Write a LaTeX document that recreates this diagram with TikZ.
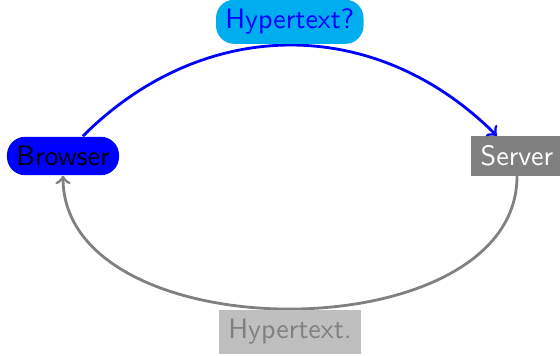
\documentclass[tikz,border=0pt]{standalone}
\definecolor{hypcyan}{RGB}{0,174,239}
\definecolor{hypgray}{RGB}{191,191,191}
\begin{document}
\begin{tikzpicture}[x=0.357pt,y=-0.357pt,font=\sffamily,
  box/.style={inner sep=3.333pt},
  pill/.style={box,rounded corners=6.5pt},
  arr/.style={->,line width=1pt}]
\useasboundingbox (0,0) rectangle (560,355);
\node[pill,fill=blue,text=black] (browser) at (63,156) {Browser};
\node[box,fill=gray,text=white] (server) at (517,156) {Server};
\draw[arr,blue] (browser) to[out=45,in=135,looseness=1.06]
  node[above,pill,fill=hypcyan,text=blue] (q) {Hypertext?} (server);
\draw[arr,gray] (server) to[out=-90,in=-90]
  node[below,box,fill=hypgray,text=gray] (a) {Hypertext.} (browser);
\end{tikzpicture}
\end{document}
